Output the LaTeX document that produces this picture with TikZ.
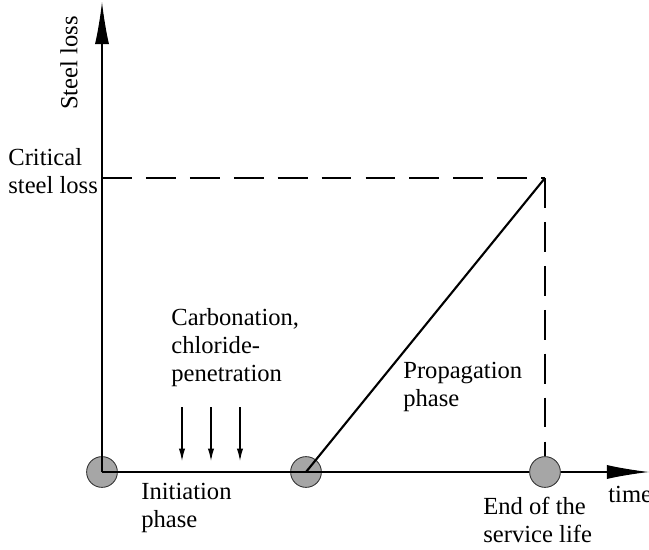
\documentclass[tikz,border=0pt]{standalone}
\usepackage{fontspec}
\setmainfont{Liberation Serif}
\usetikzlibrary{arrows.meta,positioning}
\tikzset{
  phase/.style={circle,draw=black!80,fill=black!35,line width=0.5pt,minimum size=17.5pt,inner sep=0pt},
  lbl/.style={align=left,anchor=north west,inner sep=0pt,font=\fontsize{14}{16}\selectfont},
  axis/.style={line width=0.6pt,-{Latex[length=24pt,width=8pt]}},
  limit/.style={line width=0.6pt,dash pattern=on 17pt off 8pt},
  attack/.style={line width=0.6pt,-{Latex[length=7pt,width=3.5pt]}}
}
\begin{document}
\begin{tikzpicture}[x=0.02cm,y=-0.02cm]
  \useasboundingbox (0,0) rectangle (649,550);
  % axes
  \coordinate (yend) at (102,2);
  \coordinate (xend) at (649,472);
  \node[phase] (start) at (102,472) {};
  \node[phase] (depass) at (306,472) {};
  \node[phase] (endlife) at (545,472) {};
  \coordinate (crit) at (545,178);
  \coordinate (critaxis) at (102,178);
  \draw[axis] (start.center) -- (yend);
  \draw[axis] (endlife.east) -- (xend);
  \draw[line width=0.6pt] (depass.center) -- (endlife.west);
  % limit lines
  \draw[limit] (critaxis) -- (crit);
  \draw[limit] (crit) -- (endlife.north);
  % damage curve
  \draw[line width=1.6pt] (start.center) -- (depass.center);
  \draw[line width=1.2pt] (depass.center) -- (crit);
  % attack arrows
  \foreach \x [count=\i] in {182,211,240} {
    \coordinate (a\i) at (\x,407);
    \coordinate (b\i) at (\x,461);
    \draw[attack] (a\i) -- (b\i);
  }
  % labels
  \node[lbl,rotate=90,anchor=south east] (ylab) at (78,16) {Steel loss};
  \node[lbl] (critlab) at (8,148) {Critical\\steel loss};
  \node[lbl] (agents) at (171,308) {Carbonation,\\chloride-\\penetration};
  \node[lbl] (prop) at (403,362) {Propagation\\phase};
  \node[lbl] (init) at (141,483) {Initiation\\phase};
  \node[lbl] (endlab) at (483,497) {End of the\\service life};
  \node[lbl] (tlab) at (608,486) {time};
\end{tikzpicture}
\end{document}
